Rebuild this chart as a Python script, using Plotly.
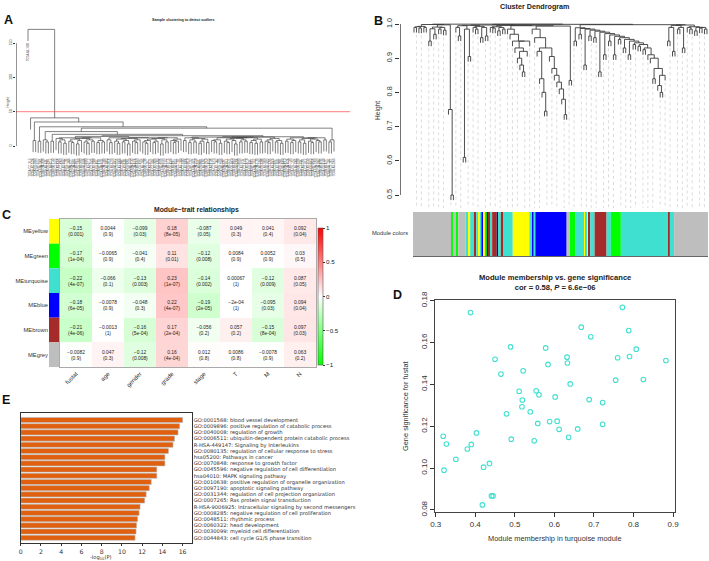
import numpy as np
import plotly.graph_objects as go

W, H = 709, 561
def fx(p): return p / W
def fy(p): return 1 - p / H

# ---------------- Panel A: sample clustering (adjacent merge heights) ----------------
A_gaps = [170, 41, 8, 35, 7, 28, 9, 6, 21, 7, 17,
          11, 6, 9, 4, 12, 7, 5, 10, 3, 8, 11, 6, 4, 9, 7, 12, 5, 8, 6,
          14,
          9, 5, 12, 7, 4, 10, 6, 8, 3, 11, 7, 5, 9, 12, 6, 4, 8, 10, 5, 7, 11, 3, 9, 6, 12, 8, 5, 7, 10,
          15,
          8, 12, 5, 9, 6, 11, 4, 7, 10, 5, 13, 8, 6, 9, 4, 12, 7, 5, 10, 8, 3, 11, 6, 9, 7, 12, 5, 8, 4,
          10, 6, 13, 7, 5, 9, 11, 6, 8, 4,
          13.5,
          7, 10, 5, 8, 12, 6, 9, 4, 11, 7, 5, 10, 8, 6, 12, 9,
          26, 6, 9]
A_hang = 17
A_cut = 50
A_yticks = [0, 50, 100, 150]
A_sites = ["A3", "B0", "B2", "B8", "BP", "CJ", "CW", "CZ", "DV", "EU", "MM", "MW"]
A_labels = [f"TCGA-{A_sites[(i * 7) % 12]}-{(i * 613) % 9000 + 1000:04d}" for i in range(len(A_gaps) + 1)]

# ---------------- Panel B: gene dendrogram (adjacent merge heights) ----------------
B_gaps = [0.99, 0.992, 0.988, 0.993, 0.99, 0.9985, 0.95, 0.986, 0.97, 0.991,
          0.985, 0.99, 0.982, 0.9975, 0.75, 0.5, 0.9995, 0.99, 0.965, 0.995,
          0.61, 0.985, 0.905, 0.996, 0.99, 0.985, 0.993, 0.96, 0.99, 0.965,
          0.997, 0.99, 0.988, 0.992, 0.98, 0.99, 0.985, 0.996, 0.985, 0.97,
          0.95, 0.93, 0.9, 0.88, 0.86, 0.92, 0.95, 0.995, 0.985, 0.96,
          0.92, 0.84, 0.8, 0.745, 0.93, 0.905, 0.87, 0.85, 0.83, 0.81,
          0.78, 0.735, 0.994, 0.835, 0.999, 0.95, 0.989, 0.97, 0.987, 0.88,
          0.985, 0.965, 0.982, 0.96, 0.979, 0.86, 0.976, 0.91, 0.972, 0.95,
          0.968, 0.91, 0.964, 0.955, 0.96, 0.93, 0.955, 0.91, 0.95, 0.94,
          0.945, 0.935, 0.94, 0.925, 0.93, 0.91, 0.9, 0.84, 0.87, 0.82,
          0.8, 0.85, 0.998, 0.95, 0.99, 0.92, 0.996, 0.985, 0.99, 0.93,
          0.997, 0.99, 0.985, 0.992, 0.98, 0.99, 0.988, 0.99, 0.985]
B_hang = 0.015
B_yticks = [0.5, 0.6, 0.7, 0.8, 0.9, 1.0]
B_mod_colors = ["grey", "green", "grey", "green", "grey", "turquoise", "yellow", "turquoise", "brown",
                "turquoise", "yellow", "turquoise", "blue", "yellow", "green", "blue", "brown", "turquoise",
                "brown", "blue", "turquoise", "brown", "turquoise", "yellow", "turquoise", "blue", "turquoise",
                "blue", "grey", "green", "turquoise", "yellow", "turquoise", "yellow", "brown", "turquoise",
                "brown", "turquoise", "green", "turquoise", "brown", "turquoise", "grey"]
B_mod_widths = [115, 5, 10, 6, 22, 10, 4, 13, 5, 8, 4, 4, 6, 6, 4, 6, 5, 5, 14, 6, 6, 8, 28, 50, 8, 4, 6,
                94, 10, 16, 28, 4, 4, 4, 5, 13, 36, 13, 30, 143, 4, 13, 102]
R_COL = {"grey": "#bebebe", "green": "#00ff00", "turquoise": "#40e0d0", "yellow": "#ffff00",
         "blue": "#0000ff", "brown": "#a52a2a"}

# ---------------- Panel C: module-trait relationships ----------------
C_modules = ["MEyellow", "MEgreen", "MEturquoise", "MEblue", "MEbrown", "MEgrey"]
C_module_colors = ["yellow", "green", "turquoise", "blue", "brown", "grey"]
C_traits = ["fustat", "age", "gender", "grade", "stage", "T", "M", "N"]
C_cor = [[-0.15, 0.0044, -0.099, 0.18, -0.087, 0.049, 0.041, 0.092],
         [-0.17, -0.0065, -0.041, 0.11, -0.12, 0.0084, 0.0052, 0.03],
         [-0.22, -0.066, -0.13, 0.23, -0.14, 0.00067, -0.12, 0.087],
         [-0.18, -0.0078, -0.048, 0.22, -0.19, -2e-04, -0.095, 0.094],
         [-0.21, -0.0013, -0.16, 0.17, -0.056, 0.057, -0.15, 0.097],
         [-0.0082, 0.047, -0.12, 0.16, 0.012, 0.0086, -0.0078, 0.063]]
C_p = [[0.001, 0.9, 0.03, 8e-05, 0.05, 0.3, 0.4, 0.04],
       [1e-04, 0.9, 0.4, 0.01, 0.008, 0.9, 0.9, 0.5],
       [4e-07, 0.1, 0.003, 1e-07, 0.002, 1, 0.009, 0.05],
       [6e-05, 0.9, 0.3, 4e-07, 2e-05, 1, 0.03, 0.04],
       [4e-06, 1, 5e-04, 2e-04, 0.2, 0.2, 8e-04, 0.03],
       [0.9, 0.3, 0.008, 4e-04, 0.8, 0.8, 0.9, 0.2]]
C_cb_ticks = [-1, -0.5, 0, 0.5, 1]

# ---------------- Panel D: MM vs GS ----------------
D_mm = [0.388, 0.772, 0.668, 0.788, 0.692, 0.489, 0.578, 0.807, 0.450, 0.632, 0.760, 0.790, 0.882,
        0.633, 0.584, 0.521, 0.465, 0.755, 0.825, 0.640, 0.511, 0.554, 0.561, 0.602, 0.519, 0.688,
        0.722, 0.518, 0.539, 0.479, 0.558, 0.588, 0.607, 0.722, 0.612, 0.659, 0.636, 0.319, 0.327,
        0.390, 0.403, 0.380, 0.491, 0.549, 0.351, 0.321, 0.436, 0.421, 0.441, 0.445, 0.418]
D_gs = [0.1743, 0.1768, 0.1673, 0.1657, 0.1627, 0.1579, 0.1574, 0.1568, 0.1520, 0.1530, 0.1527, 0.1533,
        0.1514, 0.1502, 0.1495, 0.1465, 0.1449, 0.1420, 0.1423, 0.1402, 0.1367, 0.1369, 0.1350, 0.1340,
        0.1325, 0.1327, 0.1313, 0.1293, 0.1269, 0.1259, 0.1213, 0.1222, 0.1224, 0.1209, 0.1185, 0.1187,
        0.1147, 0.1152, 0.1115, 0.1113, 0.1168, 0.1091, 0.1138, 0.1130, 0.1042, 0.0990, 0.1022, 0.1004,
        0.0867, 0.0867, 0.0824]
D_xticks = [0.3, 0.4, 0.5, 0.6, 0.7, 0.8, 0.9]
D_yticks = [0.08, 0.10, 0.12, 0.14, 0.16, 0.18]

# ---------------- Panel E: enrichment ----------------
E_terms = ["GO:0001568: blood vessel development",
           "GO:0009896: positive regulation of catabolic process",
           "GO:0040008: regulation of growth",
           "GO:0006511: ubiquitin-dependent protein catabolic process",
           "R-HSA-449147: Signaling by Interleukins",
           "GO:0080135: regulation of cellular response to stress",
           "hsa05200: Pathways in cancer",
           "GO:0070848: response to growth factor",
           "GO:0045596: negative regulation of cell differentiation",
           "hsa04010: MAPK signaling pathway",
           "GO:0010638: positive regulation of organelle organization",
           "GO:0097190: apoptotic signaling pathway",
           "GO:0031344: regulation of cell projection organization",
           "GO:0007265: Ras protein signal transduction",
           "R-HSA-9006925: Intracellular signaling by second messengers",
           "GO:0008285: negative regulation of cell proliferation",
           "GO:0048511: rhythmic process",
           "GO:0060322: head development",
           "GO:0030099: myeloid cell differentiation",
           "GO:0044843: cell cycle G1/S phase transition"]
E_vals = [16.0, 15.7, 15.55, 15.2, 15.05, 14.6, 14.25, 14.25, 13.45, 13.45,
          12.9, 12.7, 12.4, 12.25, 11.8, 11.7, 11.55, 11.45, 11.4, 11.3]
E_xticks = [0, 2, 4, 6, 8, 10, 12, 14, 16]


# ---------------- helpers ----------------
def dendro(gaps, hang):
    xs, ys, leaf_bottom = [], [], {}

    def build(lo, hi):
        if lo == hi:
            return ("leaf", lo)
        k = lo + int(np.argmax(gaps[lo:hi]))
        return (gaps[k], build(lo, k), build(k + 1, hi))

    def draw(node):
        if node[0] == "leaf":
            return node[1], None
        h, l, r = node
        xl, hl = draw(l)
        xr, hr = draw(r)
        for xc, hc in ((xl, hl), (xr, hr)):
            if hc is None:
                bottom = h - hang
                leaf_bottom[xc] = bottom
            else:
                bottom = hc
            xs.extend([xc, xc, None]); ys.extend([h, bottom, None])
        xs.extend([xl, xr, None]); ys.extend([h, h, None])
        return (xl + xr) / 2, h

    draw(build(0, len(gaps)))
    return xs, ys, leaf_bottom


def rfmt(v):
    fixed = np.format_float_positional(v, trim='-')
    m, e = f"{v:e}".split("e")
    mant = m.rstrip("0").rstrip(".")
    ex = int(e)
    sci = f"{mant}e{'-' if ex < 0 else '+'}{abs(ex):02d}"
    s = sci if len(sci) < len(fixed) else fixed
    if s.startswith("-"):
        s = "\u2212" + s[1:]
    return s


RF = "Liberation Sans, Arial, sans-serif"
MF = "DejaVu Sans, sans-serif"
fig = go.Figure()
ann = []

def note(px, py, text, size, color="#333", family=RF, angle=0, xa="center", ya="middle"):
    ann.append(dict(x=fx(px), y=fy(py), xref="paper", yref="paper", text=text, textangle=angle,
                    showarrow=False, xanchor=xa, yanchor=ya,
                    font=dict(size=size, color=color, family=family)))

def base_axis(dom, rng, anchor, **kw):
    d = dict(domain=dom, range=rng, anchor=anchor, showgrid=False, zeroline=False,
             showline=False, ticks="", showticklabels=False, automargin=False)
    d.update(kw)
    return d

# ---- Panel A ----
A_xr = [(16 - 28) / 2.55, (350 - 28) / 2.55]
A_yr = [(146 - 157) * 50 / 34.3, (146 - 14) * 50 / 34.3]
ax, ay, _ = dendro(A_gaps, A_hang)
fig.add_trace(go.Scatter(x=ax, y=ay, mode="lines", line=dict(color="#3c3c3c", width=0.65),
                         xaxis="x", yaxis="y", hoverinfo="skip"))
fig.add_trace(go.Scatter(x=A_xr, y=[A_cut, A_cut], mode="lines",
                         line=dict(color="rgba(255,60,60,0.75)", width=0.9), xaxis="x", yaxis="y"))
fig.add_trace(go.Scatter(x=[A_xr[0] + 0.15] * 2, y=[A_yticks[0], A_yticks[-1]], mode="lines",
                         line=dict(color="#333", width=0.6), xaxis="x", yaxis="y"))
ann.append(dict(x=0, y=170 - A_hang, xref="x", yref="y", text=A_labels[0], textangle=-90,
                showarrow=False, xanchor="center", yanchor="top", font=dict(size=2.6, color="#444", family=RF)))
note(183, 20, "<b>Sample clustering to detect outliers</b>", 3.7, "#222")
note(7.5, 102, "Height", 3.5, angle=-90)

# ---- Panel B ----
B_xr = [(400 - 414) / 2.462, (709 - 414) / 2.462]
B_yr = [1.0 - (208 - 24) / 342, 1.0 + 10 / 342]
bx, by, bleaf = dendro(B_gaps, B_hang)
gx, gy = [], []
for g in np.linspace(1, len(B_gaps) - 1, 52):
    li = int(round(g))
    gx.extend([li, li, None]); gy.extend([bleaf.get(li, 0.97) - 0.006, B_yr[0], None])
fig.add_trace(go.Scatter(x=gx, y=gy, mode="lines", line=dict(color="#c4c4c4", width=0.6, dash="dot"),
                         xaxis="x2", yaxis="y2", hoverinfo="skip"))
fig.add_trace(go.Scatter(x=bx, y=by, mode="lines", line=dict(color="#3a3a3a", width=0.9),
                         xaxis="x2", yaxis="y2", hoverinfo="skip"))
fig.add_trace(go.Scatter(x=[B_xr[0] + 0.15] * 2, y=[B_yticks[0], B_yticks[-1]], mode="lines",
                         line=dict(color="#333", width=0.8), xaxis="x2", yaxis="y2"))
note(535, 6, "<b>Cluster Dendrogram</b>", 7.2, "#222")
note(378, 110, "Height", 6.6, angle=-90)

starts = np.concatenate([[0], np.cumsum(B_mod_widths)[:-1]])
fig.add_trace(go.Bar(x=B_mod_widths, base=starts, y=[0] * len(B_mod_widths), orientation="h", width=1,
                     marker=dict(color=[R_COL[c] for c in B_mod_colors], line=dict(width=0)),
                     xaxis="x3", yaxis="y3", hoverinfo="skip"))
note(410, 233, "Module colors", 5.8, xa="right")

# ---- Panel C ----
texts = [[f"{rfmt(c)}<br>({rfmt(p)})" for c, p in zip(rc, rp)] for rc, rp in zip(C_cor, C_p)]
fig.add_trace(go.Heatmap(z=C_cor, x=C_traits, y=C_modules, text=texts, texttemplate="%{text}",
                         textfont=dict(size=4.9, color="#222", family=RF),
                         colorscale=[[0, "#00ff00"], [0.5, "#ffffff"], [1, "#ff0000"]], zmin=-1, zmax=1,
                         xaxis="x4", yaxis="y4", hoverinfo="skip",
                         colorbar=dict(x=fx(318), xanchor="left", y=fy(296.5), yanchor="middle",
                                       len=137 / H, lenmode="fraction", thickness=5, outlinewidth=0.6,
                                       outlinecolor="#555", tickvals=C_cb_ticks,
                                       ticktext=[rfmt(float(t)) if t != 0 else "0" for t in C_cb_ticks],
                                       ticks="outside", ticklen=2, tickcolor="#333",
                                       tickfont=dict(size=6.2, color="#222", family=RF), xpad=0, ypad=0)))
fig.add_trace(go.Bar(x=[1] * len(C_modules), y=C_modules, orientation="h", width=1,
                     marker=dict(color=[R_COL[c] for c in C_module_colors], line=dict(width=0)),
                     xaxis="x5", yaxis="y5", hoverinfo="skip"))
note(196, 210, "<b>Module\u2212trait relationships</b>", 6.8, "#222")

# ---- Panel D ----
fig.add_trace(go.Scatter(x=D_mm, y=D_gs, mode="markers",
                         marker=dict(symbol="circle-open", size=4.6, color="#40e0d0", line=dict(width=1.1)),
                         xaxis="x6", yaxis="y6", hoverinfo="skip"))
note(555, 282, "<b>Module membership vs. gene significance<br>cor = 0.58, <i>P</i> = 6.6e\u221206</b>", 7.6, "#222")
note(555, 538, "Module membership in turquoise module", 7.4)
note(405, 406, "Gene significance for fustat", 7.4, angle=-90)

# ---- Panel E ----
fig.add_trace(go.Bar(x=E_vals, y=E_terms, orientation="h", width=0.82,
                     marker=dict(color="#e0600f", line=dict(color="#b8b8b8", width=0.6)),
                     xaxis="x7", yaxis="y7", hoverinfo="skip"))
note(101, 557.5, "-log<sub>10</sub>(P)", 5.2, family=MF)

# ---- panel letters ----
for L, px, py in [("A", 2, 11), ("B", 372, 12), ("C", 0, 206), ("D", 391, 286), ("E", 0, 391)]:
    note(px, py, f"<b>{L}</b>", 12.5, "#111", xa="left", ya="top")

lay = dict(width=W, height=H, margin=dict(l=0, r=0, t=0, b=0), template="none",
           paper_bgcolor="white", plot_bgcolor="white", showlegend=False, font=dict(family=RF),
           annotations=ann, barmode="overlay")

lay["xaxis"] = base_axis([fx(16), fx(350)], A_xr, "y", showticklabels=True,
                         tickvals=list(range(1, len(A_labels))), ticktext=A_labels[1:], tickangle=-90,
                         tickfont=dict(size=2.6, color="#444", family=RF))
lay["yaxis"] = base_axis([fy(157), fy(14)], A_yr, "x", showticklabels=True, tickvals=A_yticks,
                         ticks="outside", ticklen=2, tickwidth=0.6, tickcolor="#333", tickangle=-90,
                         tickfont=dict(size=3.6, color="#333", family=RF))
lay["xaxis2"] = base_axis([fx(400), 1.0], B_xr, "y2")
lay["yaxis2"] = base_axis([fy(208), fy(14)], B_yr, "x2", showticklabels=True, tickvals=B_yticks,
                          tickformat=".1f", ticks="outside", ticklen=4, tickwidth=0.8, tickcolor="#333",
                          tickangle=-90, tickfont=dict(size=7.3, color="#333", family=RF))
lay["xaxis3"] = base_axis([fx(413), fx(708)], [0, sum(B_mod_widths)], "y3", showline=True,
                          linecolor="#666", linewidth=1)
lay["yaxis3"] = base_axis([fy(256), fy(212)], [-0.5, 0.5], "x3")
lay["xaxis4"] = base_axis([fx(60), fx(316)], None, "y4", showticklabels=True, tickangle=-45,
                          showline=True, mirror=True, linecolor="#aaa", linewidth=1,
                          tickfont=dict(size=6.0, color="#333", family=RF))
lay["yaxis4"] = base_axis([fy(367), fy(219)], None, "x4", autorange="reversed",
                          showline=True, mirror=True, linecolor="#aaa", linewidth=1)
lay["xaxis5"] = base_axis([fx(49), fx(59)], [0, 1], "y5")
lay["yaxis5"] = base_axis([fy(367), fy(219)], None, "x5", autorange="reversed", showticklabels=True,
                          tickfont=dict(size=5.8, color="#333", family=RF))
lay["xaxis6"] = base_axis([fx(435), fx(675)], [0.2982, 0.905], "y6", showticklabels=True,
                          tickvals=D_xticks, tickformat=".1f", ticks="outside", ticklen=4, tickwidth=0.8,
                          tickcolor="#333", showline=True, mirror=True, linecolor="#444", linewidth=1,
                          tickfont=dict(size=8, color="#333", family=RF))
lay["yaxis6"] = base_axis([fy(512), fy(300)], [0.0790, 0.1803], "x6", showticklabels=True,
                          tickvals=D_yticks, tickformat=".2f", ticks="outside", ticklen=4, tickwidth=0.8,
                          tickcolor="#333", tickangle=-90, showline=True, mirror=True, linecolor="#444",
                          linewidth=1, tickfont=dict(size=8, color="#333", family=RF))
lay["xaxis7"] = base_axis([fx(20.7), fx(191.7)], [0, 16.9], "y7", showticklabels=True, tickvals=E_xticks,
                          ticks="outside", ticklen=2.5, tickwidth=0.6, tickcolor="#333", showline=True,
                          mirror=True, linecolor="#333", linewidth=0.8,
                          tickfont=dict(size=6.2, color="#333", family=MF))
lay["yaxis7"] = base_axis([fy(543), fy(413)], [19.85, -1.13], "x7", side="right", showticklabels=True,
                          showline=True, mirror=True, linecolor="#333", linewidth=0.8,
                          categoryorder="array", categoryarray=E_terms,
                          tickfont=dict(size=5.2, color="#333", family=MF))
fig.update_layout(**lay)
fig.write_html("out.html", config={"displayModeBar": False},
               post_script="document.body.style.margin='0px';document.body.style.overflow='hidden';")
